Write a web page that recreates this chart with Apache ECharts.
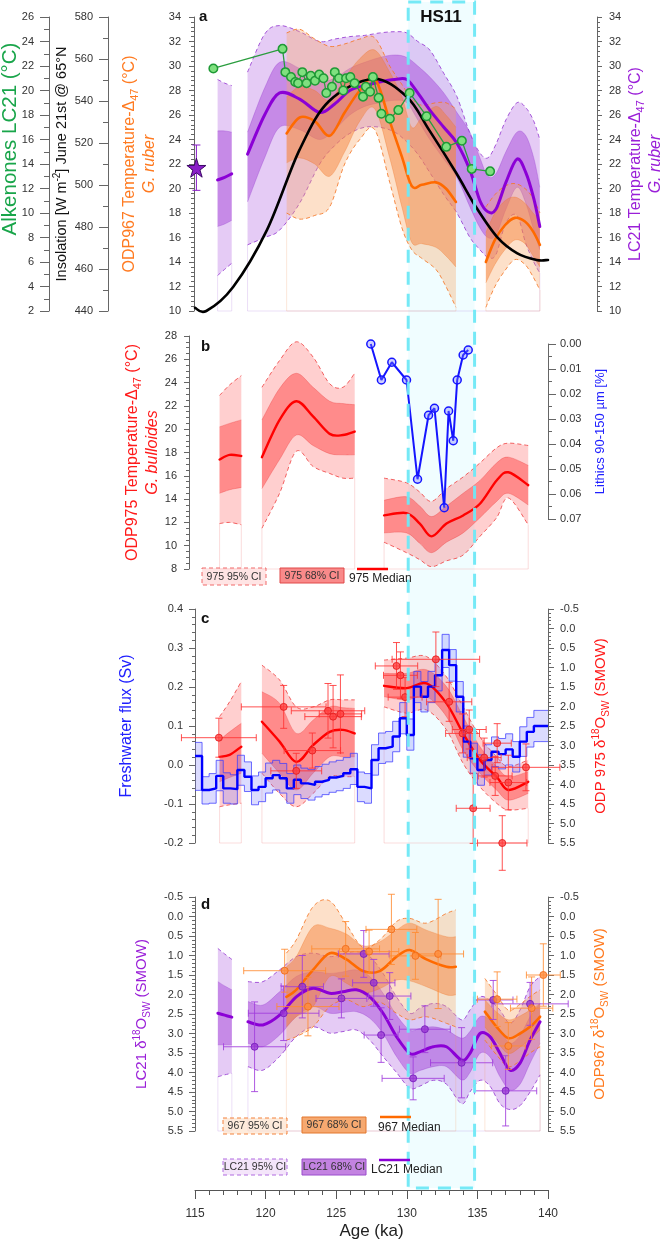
<!DOCTYPE html>
<html><head><meta charset="utf-8">
<script src="https://cdn.jsdelivr.net/npm/echarts@6/dist/echarts.min.js"></script>
<style>html,body{margin:0;padding:0;background:#fff}#c{width:663px;height:1239px}</style>
</head><body><div id="c"></div>
<script>
// ================= DATA =================
const HS11 = [130.1, 134.8];

// Panel a : insolation (W m-2)
const insAge = [115.0, 115.8, 117.7, 120.1, 122.4, 124.5, 127.6, 130.0, 131.6, 133.5, 134.9, 136.4, 137.8, 139.2, 140.0];
const insVal = [441.5, 440.0, 451.4, 478.6, 516.7, 540.0, 550.5, 542.0, 526.0, 505.7, 489.5, 475.2, 467.6, 464.3, 464.3];

// Panel a : alkenones LC21 (°C)
const alkAge = [116.3, 121.2, 121.4, 121.8, 122.1, 122.3, 122.6, 122.9, 123.2, 123.5, 123.8, 124.1, 124.3, 124.7, 124.9, 125.2, 125.5, 125.7, 126.0, 126.3, 126.9, 127.1, 127.4, 127.6, 128.0, 128.2, 128.8, 129.4, 130.2, 131.4, 132.8, 133.9, 134.6, 135.9];
const alkVal = [21.8, 23.4, 21.5, 21.1, 20.7, 20.6, 21.5, 20.6, 21.2, 20.8, 21.3, 21.0, 19.8, 20.3, 21.5, 21.0, 20.0, 21.0, 21.1, 20.6, 19.5, 20.3, 19.9, 21.1, 19.4, 18.1, 17.7, 18.4, 19.8, 17.9, 15.4, 15.9, 13.6, 13.4];

// Panel a : core-top star
const starAge = [115.1];
const starVal = [21.7];
const starErr = [1.85];

// Panel a : LC21 Δ47 temperature (purple)
const lcT1Age  = [116.6, 117.1, 117.6];
const lcT1Med  = [20.7, 20.9, 21.2];
const lcT1Lo68 = [16.9, 17.1, 17.4];
const lcT1Hi68 = [24.7, 24.7, 24.6];
const lcT1Lo95 = [12.9, 13.4, 13.9];
const lcT1Hi95 = [28.9, 28.6, 28.4];

const lcT2Age  = [118.72, 119.93, 120.99, 122.41, 123.83, 124.89, 125.96, 127.02, 128.09, 129.15, 130.0, 130.78, 131.63, 132.62, 133.55, 134.47, 135.18, 135.74, 136.31, 137.02, 137.80, 138.43, 138.99, 139.42];
const lcT2Med  = [22.8, 26.0, 27.8, 27.3, 26.2, 26.9, 28.0, 28.4, 28.7, 28.9, 28.9, 27.8, 26.4, 25.0, 23.7, 21.5, 19.0, 18.1, 18.3, 20.5, 22.4, 21.3, 19.2, 16.9];
const lcT2Hi68 = [24.6, 28.2, 30.3, 29.8, 28.8, 29.0, 29.8, 30.3, 30.7, 30.9, 30.7, 30.0, 29.1, 27.8, 26.2, 24.6, 22.5, 21.0, 21.2, 23.0, 24.6, 24.3, 22.5, 20.1];
const lcT2Lo68 = [18.9, 22.5, 25.0, 24.8, 24.0, 24.8, 26.0, 26.7, 27.0, 27.2, 27.0, 25.6, 24.0, 22.4, 20.9, 18.5, 16.8, 16.0, 16.2, 18.3, 20.1, 18.8, 16.6, 15.0];
const lcT2Hi95 = [29.5, 32.6, 33.3, 32.8, 32.0, 32.2, 32.4, 32.5, 32.7, 32.8, 32.7, 32.0, 31.3, 29.4, 27.5, 24.5, 22.9, 22.5, 23.6, 25.6, 27.0, 26.6, 25.5, 24.0];
const lcT2Lo95 = [15.4, 16.0, 16.6, 18.8, 22.0, 23.5, 24.5, 25.0, 25.0, 24.6, 23.8, 22.8, 21.3, 19.5, 18.0, 16.0, 15.0, 14.4, 14.6, 17.2, 17.8, 15.5, 14.0, 13.1];

// Panel a : ODP967 Δ47 temperature (orange)
const odT1Age  = [121.49, 122.41, 123.48, 124.54, 125.60, 126.67, 127.73, 128.79, 129.65, 130.35, 131.06, 132.06, 132.77, 133.48];
const odT1Med  = [24.5, 25.8, 25.5, 24.3, 26.2, 28.0, 29.0, 25.5, 22.6, 20.2, 20.3, 20.5, 20.0, 18.9];
const odT1Hi68 = [27.5, 28.3, 28.0, 27.2, 29.0, 30.6, 31.3, 29.5, 27.5, 25.0, 25.8, 26.7, 26.0, 25.0];
const odT1Lo68 = [22.1, 22.5, 22.0, 21.0, 23.0, 25.5, 26.5, 22.5, 18.5, 15.6, 15.5, 15.2, 14.5, 13.6];
const odT1Hi95 = [32.7, 33.0, 32.2, 31.6, 31.8, 32.2, 32.3, 30.0, 28.5, 27.3, 26.8, 27.0, 27.0, 26.5];
const odT1Lo95 = [18.0, 17.5, 17.8, 18.5, 22.0, 24.0, 24.8, 20.5, 16.8, 15.0, 14.3, 13.4, 12.0, 10.3];

const odT2Age  = [135.60, 136.24, 136.95, 137.66, 138.37, 138.94, 139.43];
const odT2Med  = [14.0, 15.8, 17.0, 17.6, 17.3, 16.5, 15.4];
const odT2Hi68 = [16.4, 18.0, 19.0, 19.3, 18.8, 18.0, 17.4];
const odT2Lo68 = [12.3, 13.8, 15.0, 15.8, 15.5, 14.5, 13.6];
const odT2Hi95 = [18.5, 19.5, 20.2, 20.4, 20.0, 19.2, 18.0];
const odT2Lo95 = [10.3, 12.0, 13.3, 14.2, 13.8, 12.8, 11.7];

// Panel b : ODP975 Δ47 temperature (red)
const b1Age  = [116.74, 117.45, 118.28];
const b1Med  = [17.4, 17.8, 17.7];
const b1Hi68 = [20.2, 20.5, 20.8];
const b1Lo68 = [14.5, 14.8, 15.0];
const b1Hi95 = [22.9, 23.8, 24.6];
const b1Lo95 = [11.9, 12.0, 11.8];

const b2Age  = [119.74, 120.99, 122.17, 123.36, 124.54, 125.48, 126.31];
const b2Med  = [17.6, 20.8, 22.4, 21.1, 19.6, 19.5, 19.8];
const b2Hi68 = [20.8, 23.5, 24.8, 23.6, 22.4, 22.2, 22.1];
const b2Lo68 = [14.9, 17.4, 19.5, 18.6, 17.9, 17.8, 17.8];
const b2Hi95 = [23.6, 25.9, 27.5, 26.2, 23.9, 23.6, 24.8];
const b2Lo95 = [11.5, 14.5, 18.1, 16.8, 16.2, 15.8, 15.8];

const b3Age  = [128.39, 129.98, 130.92, 131.75, 132.81, 133.99, 135.18, 136.36, 137.19, 138.6];
const b3Med  = [12.6, 12.8, 11.9, 10.8, 11.9, 12.6, 13.6, 15.6, 16.3, 15.2];
const b3Hi68 = [13.9, 14.2, 13.4, 12.5, 13.4, 14.5, 15.6, 17.1, 17.6, 16.9];
const b3Lo68 = [11.1, 11.1, 10.2, 9.4, 10.3, 11.1, 12.4, 13.8, 14.5, 13.5];
const b3Hi95 = [15.8, 15.4, 14.6, 13.8, 14.9, 15.9, 17.1, 18.4, 18.8, 18.6];
const b3Lo95 = [10.3, 9.4, 8.8, 8.2, 8.7, 9.2, 10.8, 12.4, 14.1, 11.8];

// Panel b : lithics 90-150 µm (%)
const litAge = [127.45, 128.2, 128.94, 129.98, 130.76, 131.54, 131.96, 132.65, 132.96, 133.29, 133.57, 133.99, 134.35];
const litVal = [0.000, 0.0144, 0.0073, 0.0144, 0.0541, 0.0285, 0.0257, 0.0655, 0.0268, 0.0387, 0.0144, 0.0044, 0.0024];

// Panel c : freshwater flux (Sv), 0.5 ka steps
const fwAge = [115.0,115.5,116.0,116.5,117.0,117.5,118.0,118.5,119.0,119.5,120.0,120.5,121.0,121.5,122.0,122.5,123.0,123.5,124.0,124.5,125.0,125.5,126.0,126.5,127.0,127.5,128.0,128.5,129.0,129.5,130.0,130.5,131.0,131.5,132.0,132.5,133.0,133.5,134.0,134.5,135.0,135.5,136.0,136.5,137.0,137.5,138.0,138.5,139.0,139.5,140.0];
const fwMed = [0.023,-0.064,-0.060,-0.028,-0.060,-0.062,-0.013,-0.030,-0.064,-0.056,-0.034,-0.026,-0.034,-0.060,-0.038,-0.047,-0.051,-0.043,-0.038,-0.032,-0.028,-0.021,-0.011,-0.056,-0.060,0.013,0.043,0.047,0.073,0.120,0.077,0.201,0.175,0.201,0.230,0.295,0.256,0.175,0.060,0.017,-0.013,0.013,0.034,0.028,0.040,0.021,0.060,0.085,0.100,0.100,0.100];
const fwHi  = [0.058,-0.030,-0.022,0.012,-0.020,-0.025,0.025,0.008,-0.028,-0.018,0.005,0.012,0.004,-0.022,0.000,-0.008,-0.012,-0.004,0.002,0.008,0.012,0.019,0.030,-0.018,-0.022,0.052,0.082,0.086,0.112,0.160,0.118,0.240,0.214,0.240,0.270,0.335,0.296,0.214,0.100,0.056,0.026,0.052,0.072,0.068,0.080,0.060,0.098,0.122,0.140,0.140,0.140];
const fwLo  = [-0.065,-0.100,-0.098,-0.066,-0.098,-0.100,-0.052,-0.068,-0.102,-0.094,-0.072,-0.064,-0.072,-0.098,-0.076,-0.086,-0.090,-0.082,-0.076,-0.070,-0.066,-0.060,-0.050,-0.094,-0.098,-0.026,0.004,0.008,0.034,0.080,0.038,0.160,0.136,0.160,0.190,0.250,0.215,0.136,0.020,-0.022,-0.052,-0.026,-0.004,-0.010,0.000,-0.018,0.022,0.046,0.060,0.060,0.060];

// Panel c : ODP975 δ18Osw (red) bands
const c1Age  = [116.74, 117.45, 118.28];
const c1Med  = [3.29, 3.24, 3.03];
const c1Lo68 = [2.86, 2.65, 2.43];
const c1Hi68 = [3.93, 3.82, 3.71];
const c1Lo95 = [2.26, 1.88, 1.36];
const c1Hi95 = [4.57, 4.52, 4.48];

const c2Age  = [119.74, 120.99, 122.17, 123.36, 124.54, 125.48, 126.31];
const c2Med  = [2.39, 2.90, 3.42, 2.99, 2.65, 2.60, 2.69];
const c2Lo68 = [1.62, 1.92, 2.69, 2.35, 2.01, 2.03, 2.05];
const c2Hi68 = [3.20, 3.71, 4.14, 3.71, 3.29, 3.29, 3.29];
const c2Lo95 = [0.94, 1.32, 2.01, 2.01, 1.83, 1.83, 1.83];
const c2Hi95 = [3.71, 4.23, 4.57, 4.23, 3.80, 3.80, 3.80];

const c3Age  = [128.39, 129.98, 131.4, 132.81, 133.99, 135.18, 136.36, 137.19, 138.6];
const c3Med  = [1.47, 1.53, 1.41, 1.92, 2.69, 3.37, 3.80, 4.14, 3.93];
const c3Lo68 = [1.15, 1.15, 1.06, 1.49, 2.26, 3.03, 3.54, 3.80, 3.67];
const c3Hi68 = [1.75, 1.83, 1.75, 2.26, 3.12, 3.71, 4.14, 4.40, 4.23];
const c3Lo95 = [0.81, 0.76, 0.72, 1.24, 2.01, 2.78, 3.29, 3.54, 3.37];
const c3Hi95 = [2.01, 2.17, 2.09, 2.60, 3.46, 4.06, 4.48, 4.65, 4.61];

// Panel c : ODP975 δ18Osw measurements (age, value, age error, value error)
const cPtAge  = [116.69, 121.28, 122.17, 123.31, 124.42, 124.78, 125.30, 129.27, 129.55, 129.88, 132.06, 133.00, 133.95, 134.42, 134.70, 135.48, 136.40, 136.26, 137.19, 138.44, 136.76];
const cPtVal  = [2.80, 2.01, 3.65, 3.13, 2.11, 2.26, 2.19, 0.96, 1.20, 1.76, 0.79, 1.88, 2.69, 2.59, 4.61, 3.31, 2.94, 3.78, 3.95, 3.56, 5.50];
const cPtAErr = [2.65, 3.0, 1.8, 2.0, 2.6, 2.0, 1.5, 1.5, 1.2, 1.2, 3.1, 1.6, 1.2, 1.2, 1.2, 1.2, 1.0, 1.2, 1.3, 2.4, 1.75];
const cPtVErr = [0.5, 0.55, 0.45, 0.45, 0.7, 0.8, 1.0, 0.6, 0.6, 0.5, 0.7, 0.5, 0.5, 0.5, 0.9, 0.5, 0.5, 0.5, 0.7, 0.6, 0.7];

// Panel d : LC21 δ18Osw (purple) bands
const d1Age  = [116.62, 117.1, 117.61];
const d1Med  = [2.48, 2.53, 2.58];
const d1Lo68 = [1.67, 1.78, 1.88];
const d1Hi68 = [3.29, 3.29, 3.29];
const d1Lo95 = [0.82, 0.96, 1.10];
const d1Hi95 = [4.11, 4.06, 4.02];

const d2Age  = [118.75, 119.81, 120.99, 122.17, 123.36, 124.54, 125.48, 126.43, 127.38, 128.32, 129.27, 130.21, 130.92, 131.87, 132.81, 133.88, 134.47, 135.18, 135.89, 136.60, 137.31, 138.02, 138.73, 139.44];
const d2Med  = [2.70, 2.78, 2.53, 2.06, 1.84, 1.97, 1.93, 1.88, 2.06, 2.48, 3.08, 3.51, 3.47, 3.34, 3.34, 3.68, 3.51, 3.00, 3.08, 3.51, 3.94, 3.76, 3.17, 2.70];
const d2Lo68 = [2.18, 2.27, 1.93, 1.54, 1.42, 1.46, 1.42, 1.37, 1.54, 1.97, 2.53, 2.91, 2.87, 2.83, 2.91, 3.12, 2.95, 2.57, 2.65, 2.91, 3.25, 3.05, 2.57, 2.23];
const d2Hi68 = [3.25, 3.34, 3.04, 2.57, 2.31, 2.48, 2.46, 2.44, 2.61, 3.00, 3.59, 4.02, 3.95, 3.85, 3.85, 4.19, 4.00, 3.51, 3.60, 4.11, 4.45, 4.30, 3.76, 3.25];
const d2Lo95 = [1.67, 1.67, 1.37, 1.03, 0.94, 1.03, 0.96, 0.90, 1.03, 1.46, 2.06, 2.48, 2.35, 2.23, 2.31, 2.65, 2.40, 2.06, 2.15, 2.40, 2.74, 2.40, 1.80, 1.54];
const d2Hi95 = [3.85, 3.94, 3.59, 3.08, 2.83, 2.99, 2.95, 2.91, 3.17, 3.59, 4.00, 4.40, 4.35, 4.20, 4.30, 4.80, 4.50, 4.20, 4.35, 4.80, 4.95, 4.85, 4.50, 4.06];

// Panel d : ODP967 δ18Osw (orange) bands
const e1Age  = [121.47, 122.17, 123.36, 124.54, 125.72, 126.90, 128.08, 129.27, 130.21, 131.39, 132.81, 133.47];
const e1Med  = [2.06, 1.88, 1.37, 0.94, 1.10, 1.40, 1.40, 1.03, 0.86, 1.10, 1.29, 1.29];
const e1Lo68 = [1.29, 1.03, 0.26, 0.30, 0.45, 0.75, 0.65, 0.35, 0.17, 0.35, 0.52, 0.52];
const e1Hi68 = [2.83, 2.57, 2.31, 1.54, 1.71, 1.95, 1.85, 1.63, 1.65, 1.80, 2.01, 2.01];
const e1Lo95 = [0.94, 0.60, -0.25, -0.40, 0.20, 0.80, 0.60, 0.13, 0.05, 0.17, -0.08, -0.17];
const e1Hi95 = [3.17, 3.08, 2.83, 2.31, 2.14, 2.31, 2.20, 2.48, 2.65, 2.57, 2.74, 2.83];

const e2Age  = [135.53, 136.36, 137.19, 138.02, 138.73, 139.44];
const e2Med  = [2.44, 2.83, 3.12, 3.00, 2.83, 2.57];
const e2Lo68 = [2.14, 2.45, 2.65, 2.55, 2.40, 2.23];
const e2Hi68 = [2.83, 3.20, 3.51, 3.35, 3.15, 2.91];
const e2Lo95 = [1.59, 2.00, 2.40, 2.25, 2.05, 1.88];
const e2Hi95 = [3.17, 3.55, 3.85, 3.70, 3.50, 3.34];

// Panel d : measurements
const dPtAge  = [119.22, 121.28, 122.6, 125.37, 126.95, 127.66, 128.18, 128.79, 130.45, 131.28, 133.88, 136.12, 137.0, 138.73];
const dPtVal  = [3.34, 2.48, 1.80, 2.10, 0.96, 1.70, 3.04, 2.04, 4.15, 2.89, 3.75, 2.14, 4.47, 2.24];
const dPtAErr = [2.2, 2.5, 1.5, 1.8, 1.8, 1.5, 1.2, 1.5, 2.2, 1.8, 2.2, 1.4, 2.2, 2.7];
const dPtVErr = [1.15, 0.7, 0.8, 0.5, 0.6, 0.6, 0.7, 0.6, 0.55, 0.6, 0.9, 0.5, 0.9, 0.55];

const ePtAge  = [121.35, 123.0, 125.67, 127.33, 128.91, 130.61, 132.22, 136.4, 137.19, 138.84, 139.67];
const ePtVal  = [1.39, 2.31, 0.83, 0.90, 0.33, 1.01, 0.96, 2.12, 3.32, 2.35, 1.50];
const ePtAErr = [2.9, 2.2, 2.4, 2.1, 1.8, 1.8, 1.8, 1.4, 1.2, 1.5, 1.2];
const ePtVErr = [0.55, 0.75, 0.7, 0.55, 0.9, 0.6, 1.4, 0.7, 0.6, 0.8, 0.8];

// ================= STYLE =================
const FONT = 'Liberation Sans, Arial, Helvetica, sans-serif';
const PUR = {edge:'rgba(150,60,210,0.85)', c95:'rgba(176,96,224,0.33)', c68:'rgba(160,60,215,0.45)', e68:'rgba(140,40,200,0.35)', med:'#8b00d6', box:'rgba(170,110,220,0.22)'};
const ORA = {edge:'rgba(245,120,40,0.85)', c95:'rgba(250,165,100,0.35)', c68:'rgba(245,125,50,0.45)', e68:'rgba(235,110,30,0.35)', med:'#ff6a00', box:'rgba(240,150,90,0.22)'};
const RED = {edge:'rgba(240,70,70,0.85)', c95:'rgba(255,110,110,0.33)', c68:'rgba(255,55,55,0.45)', e68:'rgba(230,40,40,0.35)', med:'#ff0000', box:'rgba(240,120,120,0.25)'};
const C_GREEN = '#19a54a', C_PURT = '#9a1fd8', C_ORT = '#ff7a20', C_REDT = '#ff1a1a', C_BLUT = '#2020ff';

const zip = (a, b) => a.map((x, i) => [x, b[i]]);

// smooth (Catmull-Rom -> cubic Bezier) path through pixel points
function curve(P, move) {
  const k = 1 / 6;
  let d = (move ? 'M' : 'L') + P[0][0].toFixed(2) + ' ' + P[0][1].toFixed(2);
  for (let i = 0; i < P.length - 1; i++) {
    const p0 = P[Math.max(i - 1, 0)], p1 = P[i], p2 = P[i + 1], p3 = P[Math.min(i + 2, P.length - 1)];
    const c1x = p1[0] + (p2[0] - p0[0]) * k, c1y = p1[1] + (p2[1] - p0[1]) * k;
    const c2x = p2[0] - (p3[0] - p1[0]) * k, c2y = p2[1] - (p3[1] - p1[1]) * k;
    d += ' C' + c1x.toFixed(2) + ' ' + c1y.toFixed(2) + ' ' + c2x.toFixed(2) + ' ' + c2y.toFixed(2) + ' ' + p2[0].toFixed(2) + ' ' + p2[1].toFixed(2);
  }
  return d;
}

// band: 95% + 68% areas with edges; 'floor' = axis value at panel bottom (for the faint frame)
function band(xi, yi, ages, lo95, lo68, hi68, hi95, P, z, floor, invert) {
  return {type:'custom', xAxisIndex:xi, yAxisIndex:yi, silent:true, animation:false, clip:false, z:z,
    data:[[ages[0], lo95[0]]], encode:{x:0, y:1},
    renderItem: function (params, api) {
      const pix = arr => ages.map((a, i) => api.coord([a, arr[i]]));
      const U95 = pix(hi95), L95 = pix(lo95), U68 = pix(hi68), L68 = pix(lo68);
      const area = (U, L) => curve(U, true) + ' ' + curve(L.slice().reverse(), false) + ' Z';
      const n = ages.length - 1;
      const low = invert ? hi95 : lo95;
      const f0 = api.coord([ages[0], floor]), f1 = api.coord([ages[n], floor]);
      const e0 = api.coord([ages[0], low[0]]), e1 = api.coord([ages[n], low[n]]);
      return {type:'group', children:[
        {type:'polyline', shape:{points:[e0, f0, f1, e1]}, style:{fill:null, stroke:P.box, lineWidth:1}},
        {type:'path', shape:{pathData:area(U95, L95)}, style:{fill:P.c95, stroke:null}},
        {type:'path', shape:{pathData:area(U68, L68)}, style:{fill:P.c68, stroke:null}},
        {type:'path', shape:{pathData:curve(U68, true)}, style:{fill:null, stroke:P.e68, lineWidth:0.8}},
        {type:'path', shape:{pathData:curve(L68, true)}, style:{fill:null, stroke:P.e68, lineWidth:0.8}},
        {type:'path', shape:{pathData:curve(U95, true)}, style:{fill:null, stroke:P.edge, lineWidth:1, lineDash:[4,3]}},
        {type:'path', shape:{pathData:curve(L95, true)}, style:{fill:null, stroke:P.edge, lineWidth:1, lineDash:[4,3]}}
      ]};
    }};
}
function medLine(xi, yi, ages, med, color, w, z) {
  return {type:'custom', xAxisIndex:xi, yAxisIndex:yi, silent:true, animation:false, clip:false, z:z,
    data:[[ages[0], med[0]]], encode:{x:0, y:1},
    renderItem: function (params, api) {
      const P = ages.map((a, i) => api.coord([a, med[i]]));
      return {type:'path', shape:{pathData:curve(P, true)}, style:{fill:null, stroke:color, lineWidth:w, lineCap:'round'}};
    }};
}
function stepBand(xi, yi, ages, lo, hi, fill, edge, z) {
  return {type:'custom', xAxisIndex:xi, yAxisIndex:yi, silent:true, animation:false, clip:false, z:z,
    data:[[ages[0], lo[0]]], encode:{x:0, y:1},
    renderItem: function (params, api) {
      const stepPts = arr => {
        const out = [];
        for (let i = 0; i < ages.length - 1; i++) {
          out.push(api.coord([ages[i], arr[i]]));
          out.push(api.coord([ages[i + 1], arr[i]]));
        }
        return out;
      };
      const U = stepPts(hi), L = stepPts(lo);
      return {type:'group', children:[
        {type:'polygon', shape:{points:U.concat(L.slice().reverse())}, style:{fill:fill, stroke:null}},
        {type:'polyline', shape:{points:U}, style:{fill:null, stroke:edge, lineWidth:1}},
        {type:'polyline', shape:{points:L}, style:{fill:null, stroke:edge, lineWidth:1}}
      ]};
    }};
}
function errBars(xi, yi, ages, vals, ae, ve, color, z, cap) {
  return {type:'custom', xAxisIndex:xi, yAxisIndex:yi, silent:true, animation:false, clip:false, z:z,
    data: ages.map((a, i) => [a, vals[i], ae[i], ve[i]]),
    encode:{x:0, y:1},
    renderItem: function (params, api) {
      const x = api.value(0), y = api.value(1), a = api.value(2), v = api.value(3);
      const L = api.coord([x - a, y]), R = api.coord([x + a, y]), T = api.coord([x, y - v]), B = api.coord([x, y + v]);
      const c = cap || 3.5, st = {stroke:color, lineWidth:1, fill:null};
      const ch = [
        {type:'line', shape:{x1:T[0], y1:T[1], x2:B[0], y2:B[1]}, style:st},
        {type:'line', shape:{x1:T[0]-c, y1:T[1], x2:T[0]+c, y2:T[1]}, style:st},
        {type:'line', shape:{x1:B[0]-c, y1:B[1], x2:B[0]+c, y2:B[1]}, style:st}
      ];
      if (a > 0) {
        ch.push({type:'line', shape:{x1:L[0], y1:L[1], x2:R[0], y2:R[1]}, style:st});
        ch.push({type:'line', shape:{x1:L[0], y1:L[1]-c, x2:L[0], y2:L[1]+c}, style:st});
        ch.push({type:'line', shape:{x1:R[0], y1:R[1]-c, x2:R[0], y2:R[1]+c}, style:st});
      }
      return {type:'group', children:ch};
    }};
}
function pts(xi, yi, ages, vals, fill, stroke, size, z, symbol) {
  return {type:'scatter', xAxisIndex:xi, yAxisIndex:yi, silent:true, animation:false, z:z, symbol:symbol || 'circle', symbolSize:size,
    data:zip(ages, vals), itemStyle:{color:fill, borderColor:stroke, borderWidth:1, opacity:1}};
}

// ================= AXES =================
const GL = 195, GW = 353;
const grids = [
  {left:GL, width:GW, top:17,  height:294},
  {left:GL, width:GW, top:336, height:233},
  {left:GL, width:GW, top:344, height:175},
  {left:GL, width:GW, top:609, height:234},
  {left:GL, width:GW, top:897, height:234},
  {left:GL, width:GW, top:2,   height:1186}
].map(g => Object.assign(g, {containLabel:false, outerBoundsMode:'none', show:false}));

const xAxes = grids.map((g, i) => ({
  type:'value', gridIndex:i, min:115, max:140, interval:5, show: i === 4,
  position:'bottom', offset: i === 4 ? 59 : 0,
  axisLine:{show:true, onZero:false, lineStyle:{color:'#555', width:1}},
  axisTick:{show:true, length:9, lineStyle:{color:'#555'}},
  minorTick:{show:true, splitNumber:5, length:5, lineStyle:{color:'#555'}},
  splitLine:{show:false}, minorSplitLine:{show:false},
  axisLabel:{margin:18, fontSize:12, color:'#333', fontFamily:FONT, showMinLabel:true, showMaxLabel:true, hideOverlap:false},
  name: i === 4 ? 'Age (ka)' : '', nameLocation:'middle', nameGap:33,
  nameTextStyle:{fontSize:17, color:'#222', fontFamily:FONT}, nameMoveOverlap:false
}));

const f1 = v => (Math.abs(v) < 1e-9 ? 0 : v).toFixed(1);
const f2 = v => (Math.abs(v) < 1e-9 ? 0 : v).toFixed(2);
function yAx(o) {
  return {
    type:'value', gridIndex:o.grid, position:o.pos, offset:o.offset || 0,
    min:o.min, max:o.max, interval:o.interval, inverse:!!o.inverse, show: o.show !== false,
    splitLine:{show:false}, minorSplitLine:{show:false},
    axisLine:{show:true, onZero:false, lineStyle:{color:'#666', width:1}},
    axisTick:{show:true, length:o.tick || 5, lineStyle:{color:'#666'}},
    minorTick:{show:true, splitNumber:o.minor || 5, length:o.mtick || 3, lineStyle:{color:'#666'}},
    axisLabel:{margin:o.margin || 10, color:'#333', fontSize:11, fontFamily:FONT, formatter:o.fmt,
      showMinLabel:true, showMaxLabel:true, hideOverlap:false},
    name:o.name || '', nameLocation:'middle', nameRotate:90, nameGap:o.gap || 30, nameMoveOverlap:false,
    nameTextStyle:Object.assign({fontFamily:FONT, fontSize:14, color:o.color || '#333', lineHeight:20}, o.nts || {})
  };
}
function rich(color, size) {
  const s = size || 14;
  return {
    t:{fontSize:s, color:color, fontFamily:FONT, lineHeight:20, verticalAlign:'middle'},
    s:{fontSize:Math.round(s*0.66), color:color, fontFamily:FONT, lineHeight:10, verticalAlign:'bottom'},
    u:{fontSize:Math.round(s*0.68), color:color, fontFamily:FONT, lineHeight:12, verticalAlign:'top'},
    i:{fontSize:s, color:color, fontFamily:FONT, fontStyle:'italic', lineHeight:20, verticalAlign:'middle'}
  };
}

const yAxes = [
  // 0 ODP967 Δ47 (grid 0, left)
  yAx({grid:0, pos:'left', min:10, max:34, interval:2, offset:1, tick:5, mtick:3, margin:13,
    name:'{t|ODP967 Temperature-Δ}{s|47}{t| (°C)}\n{i|G. ruber}', gap:34, nts:{rich:rich(C_ORT, 16)}}),
  // 1 Insolation
  yAx({grid:0, pos:'left', min:440, max:580, interval:20, offset:87, tick:9, mtick:5, minor:2, margin:15,
    name:'{t|Insolation [W m}{u|-2}{t|] June 21st @ 65°N}', gap:36, nts:{rich:rich('#111', 14.5)}}),
  // 2 Alkenones
  yAx({grid:0, pos:'left', min:2, max:26, interval:2, offset:146, tick:9, mtick:5, minor:2, margin:15,
    name:'Alkenones LC21 (°C)', gap:29, color:C_GREEN, nts:{fontSize:20.5, lineHeight:20, padding:[0,0,0,50]}}),
  // 3 LC21 Δ47 (right)
  yAx({grid:0, pos:'right', min:10, max:34, interval:2, offset:49, tick:5, mtick:3, margin:12,
    name:'{t|LC21 Temperature-Δ}{s|47}{t| (°C)}\n{i|G. ruber}', gap:29, nts:{rich:rich(C_PURT, 16)}}),
  // 4 ODP975 Δ47 (grid 1, left)
  yAx({grid:1, pos:'left', min:8, max:28, interval:2, offset:6, tick:5, mtick:3, minor:4, margin:12,
    name:'{t|ODP975 Temperature-Δ}{s|47}{t| (°C)}\n{i|G. bulloides}', gap:26, nts:{rich:rich(C_REDT, 16)}}),
  // 5 Lithics (grid 2, right)
  yAx({grid:2, pos:'right', min:0, max:0.07, interval:0.01, inverse:true, tick:8, mtick:4, minor:2, margin:12, fmt:f2,
    name:'Lithics 90-150 µm [%]', gap:43, color:C_BLUT, nts:{fontSize:13, lineHeight:19}}),
  // 6 Freshwater (grid 3, left)
  yAx({grid:3, pos:'left', min:-0.2, max:0.4, interval:0.1, tick:6, mtick:3, margin:12, fmt:f1,
    name:'Freshwater flux (Sv)', gap:58, color:C_BLUT, nts:{fontSize:16, lineHeight:20}}),
  // 7 ODP975 δ18O (grid 3, right)
  yAx({grid:3, pos:'right', min:-0.5, max:5.5, interval:0.5, inverse:true, tick:6, mtick:3, margin:12, fmt:f1,
    name:'{t|ODP 975 δ}{u|18}{t|O}{s|SW}{t| (SMOW)}', gap:43, nts:{rich:rich(C_REDT, 15)}}),
  // 8 LC21 δ18O (grid 4, left)
  yAx({grid:4, pos:'left', min:-0.5, max:5.5, interval:0.5, inverse:true, tick:6, mtick:3, margin:12, fmt:f1,
    name:'{t|LC21 δ}{u|18}{t|O}{s|SW}{t| (SMOW)}', gap:43, nts:{rich:rich(C_PURT, 15)}}),
  // 9 ODP967 δ18O (grid 4, right)
  yAx({grid:4, pos:'right', min:-0.5, max:5.5, interval:0.5, inverse:true, tick:6, mtick:3, margin:12, fmt:f1,
    name:'{t|ODP967 δ}{u|18}{t|O}{s|SW}{t| (SMOW)}', gap:42, nts:{rich:rich(C_ORT, 15)}}),
  // 10 helper for HS11 band
  yAx({grid:5, pos:'left', min:0, max:1, interval:1, show:false})
];

// ================= SERIES =================
const series = [];
// HS11 fill
series.push({type:'custom', xAxisIndex:5, yAxisIndex:10, silent:true, animation:false, clip:false, z:0,
  data:[[HS11[0], HS11[1]]], encode:{x:[0,1]},
  renderItem: function (p, api) {
    const a = api.coord([api.value(0), 1]), b = api.coord([api.value(1), 0]);
    return {type:'rect', shape:{x:a[0], y:a[1], width:b[0]-a[0], height:b[1]-a[1]}, style:{fill:'rgba(225,252,255,0.5)', stroke:null}};
  }});

// Panel a
series.push(band(0, 3, lcT1Age, lcT1Lo95, lcT1Lo68, lcT1Hi68, lcT1Hi95, PUR, 1, 10, false));
series.push(band(0, 3, lcT2Age, lcT2Lo95, lcT2Lo68, lcT2Hi68, lcT2Hi95, PUR, 1, 10, false));
series.push(band(0, 0, odT1Age, odT1Lo95, odT1Lo68, odT1Hi68, odT1Hi95, ORA, 1, 10, false));
series.push(band(0, 0, odT2Age, odT2Lo95, odT2Lo68, odT2Hi68, odT2Hi95, ORA, 1, 10, false));
series.push(medLine(0, 3, lcT1Age, lcT1Med, PUR.med, 3, 3));
series.push(medLine(0, 3, lcT2Age, lcT2Med, PUR.med, 3, 3));
series.push(medLine(0, 0, odT1Age, odT1Med, ORA.med, 2.6, 3));
series.push(medLine(0, 0, odT2Age, odT2Med, ORA.med, 2.6, 3));
series.push(medLine(0, 1, insAge, insVal, '#000', 2.6, 4));
series.push({type:'line', xAxisIndex:0, yAxisIndex:2, symbol:'circle', symbolSize:8.5, showAllSymbol:true, silent:true, animation:false, z:5,
  data:zip(alkAge, alkVal), lineStyle:{color:'#2a9d3e', width:1.3},
  itemStyle:{color:'#7fe07f', borderColor:'#1f9a36', borderWidth:1.5}});
series.push(errBars(0, 0, starAge, starVal, [0], starErr, '#8a1ec8', 5, 4));
series.push(pts(0, 0, starAge, starVal, '#8a1ec8', '#3c0866', 19, 6,
  'path://M50,0 L61,35 L98,35 L68,57 L79,91 L50,70 L21,91 L32,57 L2,35 L39,35 Z'));

// Panel b
series.push(band(1, 4, b1Age, b1Lo95, b1Lo68, b1Hi68, b1Hi95, RED, 1, 8, false));
series.push(band(1, 4, b2Age, b2Lo95, b2Lo68, b2Hi68, b2Hi95, RED, 1, 8, false));
series.push(band(1, 4, b3Age, b3Lo95, b3Lo68, b3Hi68, b3Hi95, RED, 1, 8, false));
series.push(medLine(1, 4, b1Age, b1Med, RED.med, 2.4, 3));
series.push(medLine(1, 4, b2Age, b2Med, RED.med, 2.4, 3));
series.push(medLine(1, 4, b3Age, b3Med, RED.med, 2.4, 3));
series.push({type:'line', xAxisIndex:2, yAxisIndex:5, symbol:'circle', symbolSize:8, showAllSymbol:true, silent:true, animation:false, z:5,
  data:zip(litAge, litVal), lineStyle:{color:'#1515ff', width:2},
  itemStyle:{color:'rgba(120,120,255,0.35)', borderColor:'#1515ff', borderWidth:1.5}});

// Panel c
series.push(band(3, 7, c1Age, c1Lo95, c1Lo68, c1Hi68, c1Hi95, RED, 1, 5.5, true));
series.push(band(3, 7, c2Age, c2Lo95, c2Lo68, c2Hi68, c2Hi95, RED, 1, 5.5, true));
series.push(band(3, 7, c3Age, c3Lo95, c3Lo68, c3Hi68, c3Hi95, RED, 1, 5.5, true));
series.push(stepBand(3, 6, fwAge, fwLo, fwHi, 'rgba(110,110,255,0.25)', 'rgba(60,60,255,0.75)', 2));
series.push(medLine(3, 7, c1Age, c1Med, RED.med, 2.4, 3));
series.push(medLine(3, 7, c2Age, c2Med, RED.med, 2.4, 3));
series.push(medLine(3, 7, c3Age, c3Med, RED.med, 2.4, 3));
series.push({type:'line', xAxisIndex:3, yAxisIndex:6, symbol:'none', step:'end', silent:true, animation:false, z:3,
  data:zip(fwAge, fwMed), lineStyle:{color:'#0000ff', width:2.4}});
series.push(errBars(3, 7, cPtAge, cPtVal, cPtAErr, cPtVErr, 'rgba(255,50,50,0.85)', 4));
series.push(pts(3, 7, cPtAge, cPtVal, 'rgba(255,60,60,0.75)', 'rgba(230,30,30,0.9)', 7, 5));

// Panel d
series.push(band(4, 8, d1Age, d1Lo95, d1Lo68, d1Hi68, d1Hi95, PUR, 1, 5.5, true));
series.push(band(4, 8, d2Age, d2Lo95, d2Lo68, d2Hi68, d2Hi95, PUR, 1, 5.5, true));
series.push(band(4, 9, e1Age, e1Lo95, e1Lo68, e1Hi68, e1Hi95, ORA, 1, 5.5, true));
series.push(band(4, 9, e2Age, e2Lo95, e2Lo68, e2Hi68, e2Hi95, ORA, 1, 5.5, true));
series.push(medLine(4, 8, d1Age, d1Med, PUR.med, 3, 3));
series.push(medLine(4, 8, d2Age, d2Med, PUR.med, 3, 3));
series.push(medLine(4, 9, e1Age, e1Med, ORA.med, 2.6, 3));
series.push(medLine(4, 9, e2Age, e2Med, ORA.med, 2.6, 3));
series.push(errBars(4, 8, dPtAge, dPtVal, dPtAErr, dPtVErr, 'rgba(160,60,220,0.85)', 4));
series.push(errBars(4, 9, ePtAge, ePtVal, ePtAErr, ePtVErr, 'rgba(255,140,50,0.85)', 4));
series.push(pts(4, 8, dPtAge, dPtVal, 'rgba(150,50,210,0.75)', 'rgba(120,30,190,0.9)', 7, 5));
series.push(pts(4, 9, ePtAge, ePtVal, 'rgba(255,140,60,0.8)', 'rgba(240,110,30,0.9)', 7, 5));

// HS11 dashed outline (on top)
series.push({type:'custom', xAxisIndex:5, yAxisIndex:10, silent:true, animation:false, clip:false, z:8,
  data:[[HS11[0], HS11[1]]], encode:{x:[0,1]},
  renderItem: function (p, api) {
    const a = api.coord([api.value(0), 1]), b = api.coord([api.value(1), 0]);
    return {type:'rect', shape:{x:a[0], y:a[1], width:b[0]-a[0], height:b[1]-a[1]},
      style:{fill:null, stroke:'rgba(110,232,245,0.95)', lineWidth:3, lineDash:[13,9]}};
  }});

// ================= GRAPHIC (labels & legends) =================
function gtext(x, y, text, size, opt) {
  return Object.assign({type:'text', x:x, y:y, z:20, silent:true,
    style:Object.assign({text:text, fontSize:size, fontFamily:FONT, fill:'#222',
      align:'left', verticalAlign:'middle', textAlign:'left', textVerticalAlign:'middle'}, opt || {})});
}
function grect(x, y, w, h, fill, stroke, dash) {
  return {type:'rect', z:20, silent:true, shape:{x:x, y:y, width:w, height:h},
    style:{fill:fill, stroke:stroke, lineWidth:1, lineDash:dash || null}};
}
function gline(x1, x2, y, color) {
  return {type:'line', z:20, silent:true, shape:{x1:x1, y1:y, x2:x2, y2:y}, style:{stroke:color, lineWidth:2.5}};
}
const graphics = [
  gtext(199, 17, 'a', 15, {fontWeight:'bold', fill:'#111'}),
  gtext(201, 347, 'b', 15, {fontWeight:'bold', fill:'#111'}),
  gtext(201, 619, 'c', 15, {fontWeight:'bold', fill:'#111'}),
  gtext(201, 905, 'd', 15, {fontWeight:'bold', fill:'#111'}),
  gtext(441, 17, 'HS11', 17, {fontWeight:'bold', fill:'#111', align:'center', textAlign:'center'}),
  // panel b legend
  grect(202, 568, 64, 17, 'rgba(255,195,195,0.45)', '#f06a6a', [4,3]),
  gtext(234, 577, '975 95% CI', 10.5, {align:'center', textAlign:'center', fill:'#333'}),
  grect(280, 568, 64, 15, 'rgba(248,125,125,0.9)', '#e04848'),
  gtext(312, 576, '975 68% CI', 10.5, {align:'center', textAlign:'center', fill:'#333'}),
  gline(357, 388, 569, '#ff0000'),
  gtext(349, 579, '975 Median', 12, {fill:'#222'}),
  // panel d legend (967)
  grect(223, 1118, 64, 16, 'rgba(253,222,195,0.6)', '#f3823c', [4,3]),
  gtext(255, 1126, '967 95% CI', 10.5, {align:'center', textAlign:'center', fill:'#333'}),
  grect(302, 1117, 64, 16, 'rgba(246,164,104,0.95)', '#e3762c'),
  gtext(334, 1125, '967 68% CI', 10.5, {align:'center', textAlign:'center', fill:'#333'}),
  gline(380, 411, 1117, '#ff6a00'),
  gtext(378, 1128, '967 Median', 12, {fill:'#222'}),
  // panel d legend (LC21)
  grect(223, 1159, 64, 16, 'rgba(236,212,246,0.6)', '#b06ae0', [4,3]),
  gtext(255, 1167, 'LC21 95% CI', 10.5, {align:'center', textAlign:'center', fill:'#333'}),
  grect(302, 1159, 64, 16, 'rgba(192,124,223,0.95)', '#9a4ccc'),
  gtext(334, 1167, 'LC21 68% CI', 10.5, {align:'center', textAlign:'center', fill:'#333'}),
  gline(379, 410, 1160, '#8b00d6'),
  gtext(371, 1170, 'LC21 Median', 12, {fill:'#222'})
];

const chart = echarts.init(document.getElementById('c'), null, {renderer:'canvas'});
chart.setOption({
  animation:false,
  backgroundColor:'#ffffff',
  textStyle:{fontFamily:FONT},
  grid:grids,
  xAxis:xAxes,
  yAxis:yAxes,
  series:series,
  graphic:graphics
});
</script></body></html>
